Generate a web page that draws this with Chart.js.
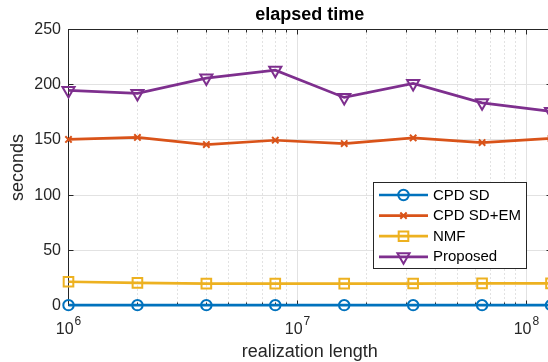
<!DOCTYPE html>
<html>
<head>
<meta charset="utf-8">
<script src="https://cdn.jsdelivr.net/npm/chart.js@4.4.1/dist/chart.umd.min.js"></script>
<style>
  html, body { margin: 0; padding: 0; background: #fff; overflow: hidden; }
  #wrap { position: relative; width: 552px; height: 363px; }
</style>
</head>
<body>
<div id="wrap"><canvas id="c" width="552" height="363"></canvas></div>
<script>
// realization lengths (x) and elapsed seconds per method
const lengths   = [1e6, 2e6, 4e6, 8e6, 1.6e7, 3.2e7, 6.4e7, 1.28e8];
const cpdSd     = [0.3, 0.3, 0.3, 0.3, 0.3, 0.3, 0.3, 0.3];
const cpdSdEm   = [150.4, 152.2, 145.8, 149.7, 146.7, 151.8, 147.6, 151.3];
const nmf       = [21.5, 20.5, 19.8, 19.8, 19.8, 19.9, 20.0, 20.0];
const proposed  = [194.8, 192.1, 206.0, 213.2, 188.5, 201.2, 183.6, 175.8];
const seriesNames = ['CPD SD', 'CPD SD+EM', 'NMF', 'Proposed'];
const yTickValues = [0, 50, 100, 150, 200, 250];
const xDecades    = [1e6, 1e7, 1e8];
const xDecadeExps = ['6', '7', '8'];

const FONT = '"Liberation Sans", Arial, Helvetica, sans-serif';
const AXIS_COLOR = '#262626';
Chart.defaults.font.family = FONT;

const toPoints = vals => lengths.map((x, i) => ({ x, y: vals[i] }));

const styles = [
  { color: '#0072BD', pointStyle: 'circle',   radius: 5.2, rotation: 0 },
  { color: '#D95319', pointStyle: 'crossRot', radius: 4.5, rotation: 0 },
  { color: '#EDB120', pointStyle: 'rect',     radius: 6.8, rotation: 0 },
  { color: '#7E2F8E', pointStyle: 'triangle', radius: 7,   rotation: 180 }
];
const seriesValues = [cpdSd, cpdSdEm, nmf, proposed];

const datasets = seriesValues.map((vals, i) => ({
  label: seriesNames[i],
  data: toPoints(vals),
  borderColor: styles[i].color,
  backgroundColor: 'rgba(0,0,0,0)',
  borderWidth: 2.7,
  pointStyle: styles[i].pointStyle,
  pointRadius: styles[i].radius,
  pointRotation: styles[i].rotation,
  pointBorderColor: styles[i].color,
  pointBackgroundColor: 'rgba(0,0,0,0)',
  pointBorderWidth: 2,
  pointHoverRadius: styles[i].radius,
  tension: 0,
  clip: false
}));

// grid, box, tick marks, decade labels and legend in MATLAB style
const axesDecor = {
  id: 'axesDecor',
  beforeDatasetsDraw(chart) {
    const { ctx, chartArea: a, scales: { x, y } } = chart;
    const crisp = v => Math.round(v - 0.5) + 0.5;
    ctx.save();
    ctx.lineWidth = 1;

    // minor (dotted) vertical grid
    ctx.strokeStyle = '#c4c4c4';
    ctx.setLineDash([1, 3]);
    const minors = [];
    xDecades.forEach(d => {
      for (let m = 2; m <= 9; m++) {
        const v = m * d;
        if (v < x.max) minors.push(v);
      }
    });
    minors.forEach(v => {
      const px = crisp(x.getPixelForValue(v));
      ctx.beginPath(); ctx.moveTo(px, a.top); ctx.lineTo(px, a.bottom); ctx.stroke();
    });

    // major (solid) grid
    ctx.setLineDash([]);
    ctx.strokeStyle = '#e2e2e2';
    yTickValues.slice(1, -1).forEach(v => {
      const py = crisp(y.getPixelForValue(v));
      ctx.beginPath(); ctx.moveTo(a.left, py); ctx.lineTo(a.right, py); ctx.stroke();
    });
    xDecades.slice(1).forEach(v => {
      const px = crisp(x.getPixelForValue(v));
      ctx.beginPath(); ctx.moveTo(px, a.top); ctx.lineTo(px, a.bottom); ctx.stroke();
    });

    // axes box
    ctx.strokeStyle = AXIS_COLOR;
    const L = crisp(a.left), R = crisp(a.right), T = crisp(a.top), B = crisp(a.bottom);
    ctx.strokeRect(L, T, R - L, B - T);

    // tick marks, pointing inward
    ctx.beginPath();
    yTickValues.forEach(v => {
      const py = crisp(y.getPixelForValue(v));
      ctx.moveTo(L, py); ctx.lineTo(L + 5, py);
      ctx.moveTo(R, py); ctx.lineTo(R - 5, py);
    });
    xDecades.forEach(v => {
      if (v > x.max) return;
      const px = crisp(x.getPixelForValue(v));
      ctx.moveTo(px, B); ctx.lineTo(px, B - 5);
      ctx.moveTo(px, T); ctx.lineTo(px, T + 5);
    });
    minors.forEach(v => {
      const px = crisp(x.getPixelForValue(v));
      ctx.moveTo(px, B); ctx.lineTo(px, B - 3);
      ctx.moveTo(px, T); ctx.lineTo(px, T + 3);
    });
    ctx.stroke();

    // decade labels 10^n
    ctx.fillStyle = AXIS_COLOR;
    ctx.textBaseline = 'alphabetic';
    ctx.textAlign = 'left';
    xDecades.forEach((v, i) => {
      const px = x.getPixelForValue(v);
      ctx.font = '16px ' + FONT;
      const wBase = ctx.measureText('10').width;
      ctx.font = '12px ' + FONT;
      const wExp = ctx.measureText(xDecadeExps[i]).width;
      const start = px - (wBase + wExp + 1) / 2;
      ctx.font = '16px ' + FONT;
      ctx.fillText('10', start, a.bottom + 28);
      ctx.font = '12px ' + FONT;
      ctx.fillText(xDecadeExps[i], start + wBase + 1, a.bottom + 19.5);
    });
    ctx.restore();
  },
  afterDraw(chart) {
    const { ctx, chartArea: a } = chart;
    const bx = a.right - 178, by = a.bottom - 124, bw = 153, bh = 86;
    ctx.save();
    ctx.fillStyle = '#ffffff';
    ctx.fillRect(bx, by, bw, bh);
    ctx.strokeStyle = AXIS_COLOR;
    ctx.lineWidth = 1;
    ctx.strokeRect(Math.round(bx) + 0.5, Math.round(by) + 0.5, bw, bh);
    chart.data.datasets.forEach((ds, i) => {
      const rowY = by + 13.5 + i * 20.6;
      ctx.strokeStyle = ds.borderColor;
      ctx.lineWidth = ds.borderWidth;
      ctx.beginPath(); ctx.moveTo(bx + 6, rowY); ctx.lineTo(bx + 55, rowY); ctx.stroke();
      ctx.lineWidth = ds.pointBorderWidth;
      ctx.fillStyle = 'rgba(0,0,0,0)';
      Chart.helpers.drawPoint(ctx, {
        pointStyle: ds.pointStyle,
        rotation: ds.pointRotation,
        radius: ds.pointRadius,
        borderWidth: ds.pointBorderWidth
      }, bx + 30.5, rowY);
      ctx.fillStyle = '#000000';
      ctx.font = '15px ' + FONT;
      ctx.textAlign = 'left';
      ctx.textBaseline = 'middle';
      ctx.fillText(ds.label, bx + 60, rowY + 0.5);
    });
    ctx.restore();
  }
};

new Chart(document.getElementById('c'), {
  type: 'line',
  data: { datasets },
  plugins: [axesDecor],
  options: {
    responsive: false,
    animation: false,
    devicePixelRatio: 1,
    events: [],
    layout: { autoPadding: false, padding: { left: 0, right: 1, top: 0, bottom: 0 } },
    plugins: {
      legend: { display: false },
      tooltip: { enabled: false },
      title: {
        display: true,
        fullSize: false,
        text: 'elapsed time',
        color: '#000000',
        font: { size: 18, weight: 'bold', lineHeight: 1.2 },
        padding: { top: 4.7, bottom: 3.2 }
      }
    },
    scales: {
      x: {
        type: 'logarithmic',
        min: lengths[0],
        max: lengths[lengths.length - 1],
        grid: { display: false, drawTicks: false },
        border: { display: false },
        ticks: { display: false },
        title: {
          display: true,
          text: 'realization length',
          color: AXIS_COLOR,
          font: { size: 18, lineHeight: 1.2 },
          padding: { top: 0, bottom: 0 }
        },
        afterFit(s) { s.height = 57.5; s.paddingLeft = 0; s.paddingRight = 0; }
      },
      y: {
        min: yTickValues[0],
        max: yTickValues[yTickValues.length - 1],
        grid: { display: false, drawTicks: false },
        border: { display: false },
        afterBuildTicks(s) { s.ticks = yTickValues.map(v => ({ value: v })); },
        ticks: {
          color: AXIS_COLOR,
          font: { size: 16 },
          padding: 7.5,
          callback: v => String(v)
        },
        title: {
          display: true,
          text: 'seconds',
          color: AXIS_COLOR,
          font: { size: 18, lineHeight: 1.2 },
          padding: { top: 7.7, bottom: 0 }
        },
        afterFit(s) { s.width = 68.5; s.paddingTop = 0; s.paddingBottom = 0; }
      }
    }
  }
});
</script>
</body>
</html>
